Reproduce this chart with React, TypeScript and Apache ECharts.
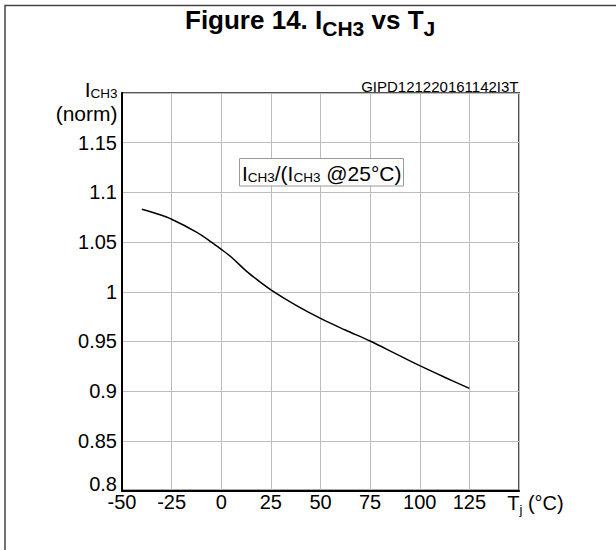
import React, { useEffect, useRef } from "react";
import * as echarts from "echarts";

const temps = [-40, -32.5, -25, -12.5, -5, 0, 5, 12.5, 17.5, 25, 37.5, 50, 62.5, 75, 87.5, 100, 112.5, 125];
const ratio = [1.083, 1.0785, 1.073, 1.06, 1.05, 1.0427, 1.035, 1.021, 1.013, 1.002, 0.9866, 0.9732, 0.9615, 0.9504, 0.938, 0.9256, 0.914, 0.9028];

const FONT = "'Liberation Sans', Arial, Helvetica, sans-serif";

export default function App() {
  const ref = useRef<HTMLDivElement>(null);
  useEffect(() => {
    document.body.style.margin = "0";
    const chart = echarts.init(ref.current!, null, { renderer: "svg" });
    const data = temps.map((t, i) => [t, ratio[i]]);
    chart.setOption({
      animation: false,
      backgroundColor: "#fff",
      textStyle: { fontFamily: FONT },
      title: {
        text: "{m|Figure 14. I}{s|CH3}{m| vs T}{s|J}",
        left: 185,
        top: 7.2,
        padding: 0,
        textStyle: {
          rich: {
            m: { fontSize: 26, fontWeight: "bold", lineHeight: 26, verticalAlign: "top", color: "#000", fontFamily: FONT },
            s: { fontSize: 21, fontWeight: "bold", lineHeight: 21, verticalAlign: "top", padding: [11, 0, 0, 0], color: "#000", fontFamily: FONT },
          },
        },
      },
      grid: { left: 122, right: 97, top: 93, bottom: 59.5, show: true, borderColor: "#555", borderWidth: 2, outerBoundsMode: "none" },
      xAxis: {
        type: "value",
        min: -50,
        max: 150,
        interval: 25,
        axisLine: { show: true, onZero: false, lineStyle: { color: "#000", width: 2 } },
        axisTick: { show: false },
        splitLine: { show: true, lineStyle: { color: "#bdbdbd", width: 1 } },
        axisLabel: {
          margin: 1,
          fontSize: 20,
          color: "#000",
          fontFamily: FONT,
          formatter: (v: number) => (v === 150 ? "" : String(v)),
        },
      },
      yAxis: {
        type: "value",
        min: 0.8,
        max: 1.2,
        interval: 0.05,
        axisLine: { show: true, onZero: false, lineStyle: { color: "#000", width: 2 } },
        axisTick: { show: false },
        splitLine: { show: true, lineStyle: { color: "#bdbdbd", width: 1 } },
        axisLabel: {
          margin: 5,
          fontSize: 20,
          color: "#000",
          fontFamily: FONT,
          formatter: (v: number) => {
            if (Math.abs(v - 1.2) < 1e-6) return "";
            const s = String(Number(v.toFixed(2)));
            return Math.abs(v - 0.8) < 1e-6 ? "{low|" + s + "}" : s;
          },
          rich: {
            low: { fontSize: 20, color: "#000", fontFamily: FONT, padding: [0, 0, 14, 0] },
          },
        },
      },
      series: [
        {
          type: "line",
          data,
          smooth: 0.35,
          showSymbol: false,
          lineStyle: { color: "#000", width: 1.5 },
        },
      ],
      graphic: [
        {
          type: "rect",
          silent: true,
          z: 0,
          shape: { x: 5, y: 5.5, width: 700, height: 700 },
          style: { fill: "none", stroke: "#444", lineWidth: 1.5 },
        },
        {
          type: "text",
          x: 117.5,
          y: 100,
          style: {
            text: "{m|I}{s|CH3}",
            align: "right",
            verticalAlign: "bottom",
            fill: "#000",
            fontFamily: FONT,
            rich: {
              m: { fontSize: 21, lineHeight: 21, verticalAlign: "bottom", fill: "#000", fontFamily: FONT },
              s: { fontSize: 13.5, lineHeight: 13.5, verticalAlign: "bottom", fill: "#000", fontFamily: FONT },
            },
          },
        },
        {
          type: "text",
          x: 117.5,
          y: 113,
          style: { text: "(norm)", align: "right", verticalAlign: "middle", fontSize: 21, fill: "#000", fontFamily: FONT },
        },
        {
          type: "text",
          x: 518.5,
          y: 94,
          style: { text: "GIPD121220161142I3T", align: "right", verticalAlign: "bottom", fontSize: 15, fill: "#000", fontFamily: FONT },
        },
        {
          type: "rect",
          z: 50,
          shape: { x: 239.5, y: 158.5, width: 164, height: 27.5 },
          style: { fill: "#fff", stroke: "#999", lineWidth: 1 },
        },
        {
          type: "text",
          z: 51,
          x: 321.7,
          y: 184.2,
          style: {
            text: "{m|I}{s|CH3}{m|/(I}{s|CH3}{m| @25°C)}",
            align: "center",
            verticalAlign: "bottom",
            fill: "#000",
            fontFamily: FONT,
            rich: {
              m: { fontSize: 21, lineHeight: 23, verticalAlign: "bottom", fill: "#000", fontFamily: FONT },
              s: { fontSize: 13.5, lineHeight: 13.5, verticalAlign: "bottom", fill: "#000", fontFamily: FONT },
            },
          },
        },
        {
          type: "text",
          x: 507.3,
          y: 493,
          style: {
            text: "{m|T}{s|j}{m| (°C)}",
            align: "left",
            verticalAlign: "top",
            fill: "#000",
            fontFamily: FONT,
            rich: {
              m: { fontSize: 20, lineHeight: 20, verticalAlign: "top", fill: "#000", fontFamily: FONT },
              s: { fontSize: 13, lineHeight: 13, verticalAlign: "top", padding: [10, 0, 0, 0], fill: "#000", fontFamily: FONT },
            },
          },
        },
      ],
    });
    return () => chart.dispose();
  }, []);
  return <div ref={ref} style={{ width: 616, height: 550 }} />;
}
